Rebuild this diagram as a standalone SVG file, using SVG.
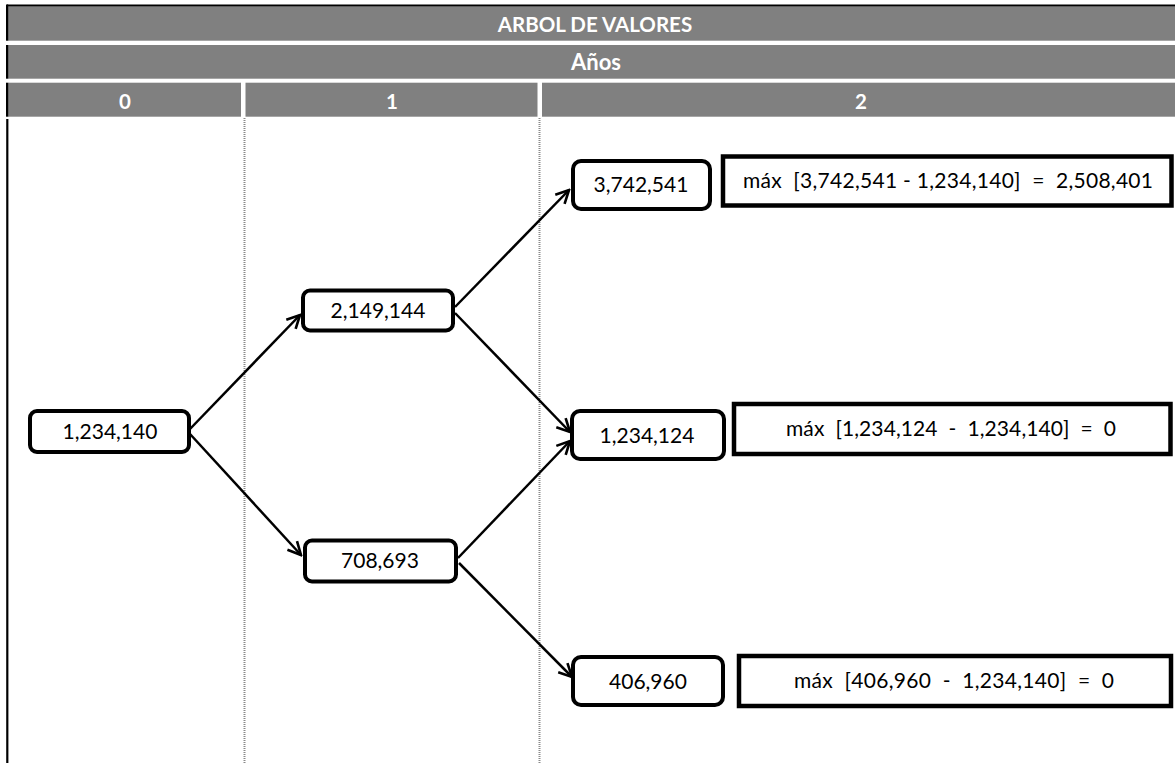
<svg xmlns="http://www.w3.org/2000/svg" width="1175" height="763" viewBox="0 0 1175 763">
<style>
.hdr{fill:#808080}
.bar{fill:#000}
.ht{font-family:Lato,"Liberation Sans",sans-serif;font-weight:bold;font-size:20.5px;fill:#fff;text-anchor:middle}
.node{fill:#fff;stroke:#000;stroke-width:4}
.mx{fill:#fff;stroke:#000;stroke-width:4.5}
.nt{font-family:Lato,"Liberation Sans",sans-serif;font-size:21px;fill:#000;text-anchor:middle;white-space:pre}
.grid{stroke:#8a8a8a;stroke-width:2;stroke-dasharray:1 1}
.conn{stroke:#000;stroke-width:2.5;fill:none;marker-end:url(#arr)}
</style>
<defs>
<marker id="arr" viewBox="0 0 16 16" refX="14.5" refY="8" markerWidth="16" markerHeight="16" markerUnits="userSpaceOnUse" orient="auto">
<path d="M1.5,1.5 L14.5,8 L1.5,14.5" fill="none" stroke="#000" stroke-width="2.6" stroke-linejoin="miter"/>
</marker>
</defs>
<rect width="1175" height="763" fill="#fff"/>
<g id="header">
<rect class="bar" x="7" y="4.5" width="1168" height="2.2"/>
<rect class="hdr" x="8" y="6.7" width="1167" height="34"/>
<rect class="hdr" x="8" y="45" width="1167" height="33.7"/>
<rect class="hdr" x="8" y="82.7" width="233" height="34"/>
<rect class="hdr" x="245.5" y="82.7" width="292" height="34"/>
<rect class="hdr" x="542" y="82.7" width="633" height="34"/>
<rect class="bar" x="6" y="4.5" width="2.2" height="36.2"/>
<rect class="bar" x="6" y="45" width="2.2" height="33.7"/>
<rect class="bar" x="6" y="82.7" width="2.2" height="34"/>
<text class="ht" x="595" y="31.5">ARBOL DE VALORES</text>
<text class="ht" x="596" y="70" style="font-size:22px">Años</text>
<text class="ht" x="125" y="108.5">0</text>
<text class="ht" x="392" y="108.5">1</text>
<text class="ht" x="861" y="108.5">2</text>
</g>
<g id="gridlines">
<line x1="7.3" y1="119" x2="7.3" y2="763" stroke="#000" stroke-width="2.2"/>
<line class="grid" x1="244.5" y1="118" x2="244.5" y2="763"/>
<line class="grid" x1="539.5" y1="118" x2="539.5" y2="763"/>
</g>
<g id="connectors">
<line class="conn" x1="190" y1="429" x2="300" y2="315"/>
<line class="conn" x1="190" y1="434" x2="301" y2="555"/>
<line class="conn" x1="455" y1="307" x2="569" y2="190"/>
<line class="conn" x1="455" y1="313" x2="570" y2="432"/>
<line class="conn" x1="458" y1="558" x2="570" y2="441"/>
<line class="conn" x1="459" y1="563" x2="572" y2="677"/>
</g>
<g id="n0">
<rect class="node" x="30" y="411" width="159" height="41" rx="7"/>
<text class="nt" x="110" y="439">1,234,140</text>
</g>
<g id="n1">
<rect class="node" x="303" y="290.5" width="150" height="40" rx="7"/>
<text class="nt" x="378" y="318">2,149,144</text>
</g>
<g id="n2">
<rect class="node" x="305" y="540.5" width="151" height="41" rx="7"/>
<text class="nt" x="380" y="568">708,693</text>
</g>
<g id="n3">
<rect class="node" x="573" y="161" width="137" height="48" rx="8"/>
<text class="nt" x="641" y="192">3,742,541</text>
</g>
<g id="m1">
<rect class="mx" x="723" y="156.5" width="448.5" height="49"/>
<text class="nt" x="948" y="188" textLength="410" lengthAdjust="spacing">máx  [3,742,541 - 1,234,140]  =  2,508,401</text>
</g>
<g id="n4">
<rect class="node" x="572" y="411" width="152" height="48" rx="8"/>
<text class="nt" x="647" y="443">1,234,124</text>
</g>
<g id="m2">
<rect class="mx" x="734" y="404" width="436.5" height="50"/>
<text class="nt" x="951" y="436" textLength="330" lengthAdjust="spacing">máx  [1,234,124  -  1,234,140]  =  0</text>
</g>
<g id="n5">
<rect class="node" x="573" y="657" width="150" height="48" rx="8"/>
<text class="nt" x="648" y="689">406,960</text>
</g>
<g id="m3">
<rect class="mx" x="739" y="656" width="432" height="50"/>
<text class="nt" x="954" y="688" textLength="320" lengthAdjust="spacing">máx  [406,960  -  1,234,140]  =  0</text>
</g>
</svg>
